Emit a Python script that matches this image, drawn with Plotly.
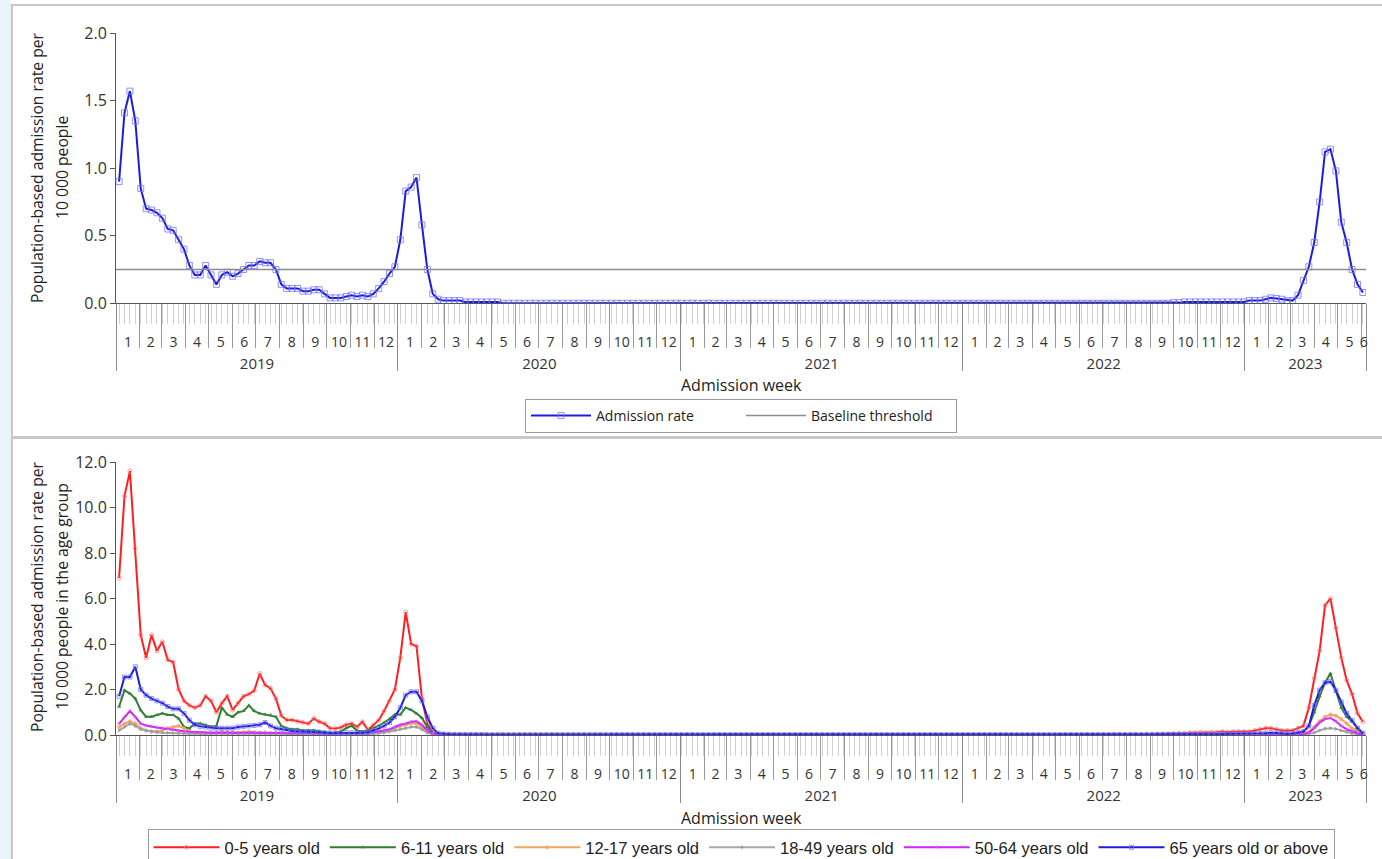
import pandas as pd
import plotly.graph_objects as go

W, H = 1382, 859
FIRST_WEEK = "2019-01-05"   # week ending date of first point
X_START, X_END = "2019-01-01", "2023-06-07"

baseline_threshold = 0.25

# ---------------- Top panel: overall admission rate ----------------
rate_2019 = [0.90, 1.41, 1.57, 1.35, 0.85, 0.70, 0.69, 0.67, 0.63, 0.55,
             0.54, 0.47, 0.40, 0.28, 0.21, 0.21, 0.28, 0.21, 0.14, 0.21,
             0.23, 0.20, 0.22, 0.25, 0.28, 0.28, 0.31, 0.30, 0.30, 0.25,
             0.14, 0.11, 0.11, 0.11, 0.09, 0.09, 0.10, 0.10, 0.07, 0.04,
             0.04, 0.04, 0.05, 0.06, 0.05, 0.06, 0.05, 0.07, 0.11, 0.16,
             0.22, 0.27]
rate_2020 = [0.47, 0.83, 0.86, 0.93, 0.58, 0.25, 0.07, 0.03, 0.02, 0.02,
             0.02, 0.02, 0.01, 0.01, 0.01, 0.01, 0.01, 0.01, 0.01, 0,
             0, 0, 0, 0, 0, 0, 0, 0, 0, 0,
             0, 0, 0, 0, 0, 0, 0, 0, 0, 0,
             0, 0, 0, 0, 0, 0, 0, 0, 0, 0,
             0, 0]
rate_2021 = [0, 0, 0, 0, 0, 0, 0, 0, 0, 0,
             0, 0, 0, 0, 0, 0, 0, 0, 0, 0,
             0, 0, 0, 0, 0, 0, 0, 0, 0, 0,
             0, 0, 0, 0, 0, 0, 0, 0, 0, 0,
             0, 0, 0, 0, 0, 0, 0, 0, 0, 0,
             0, 0]
rate_2022 = [0, 0, 0, 0, 0, 0, 0, 0, 0, 0,
             0, 0, 0, 0, 0, 0, 0, 0, 0, 0,
             0, 0, 0, 0, 0, 0, 0, 0, 0, 0,
             0, 0, 0, 0, 0, 0, 0, 0, 0, 0.005,
             0.005, 0.01, 0.01, 0.01, 0.01, 0.01, 0.01, 0.01, 0.01, 0.01,
             0.01, 0.01, 0.01]
rate_2023 = [0.02, 0.02, 0.02, 0.03, 0.04, 0.035, 0.03, 0.02, 0.02, 0.06,
             0.17, 0.27, 0.45, 0.75, 1.12, 1.14, 0.98, 0.60, 0.45, 0.25,
             0.14, 0.08]

# ---------------- Bottom panel: by age group ----------------
age_0_5_2019 = [6.9, 10.5, 11.6, 8.2, 4.4, 3.4, 4.4, 3.7, 4.1, 3.3,
                3.2, 2.0, 1.5, 1.3, 1.2, 1.3, 1.7, 1.5, 1.0, 1.4,
                1.7, 1.1, 1.4, 1.7, 1.8, 1.95, 2.7, 2.2, 2.05, 1.6,
                0.85, 0.66, 0.66, 0.6, 0.55, 0.5, 0.73, 0.58, 0.5, 0.3,
                0.29, 0.33, 0.45, 0.5, 0.36, 0.58, 0.22, 0.44, 0.65, 1.05,
                1.5, 2.0]
age_0_5_2020 = [3.4, 5.4, 4.0, 3.9, 1.6, 0.5, 0.12, 0.05, 0.04, 0.03,
                0.03, 0.02, 0.02, 0.02, 0.02, 0.01, 0.01, 0.01, 0.01, 0.01,
                0.01, 0.01, 0.02, 0.01, 0.01, 0.01, 0.01, 0.01, 0.01, 0.01,
                0.01, 0.01, 0.01, 0.01, 0.02, 0.01, 0.01, 0.01, 0.01, 0.01,
                0.01, 0.01, 0.01, 0.01, 0.01, 0.01, 0.01, 0.01, 0.01, 0.01,
                0.01, 0.01]
age_0_5_2021 = [0.01, 0.01, 0.01, 0.01, 0.01, 0.01, 0.01, 0.01, 0.01, 0.01,
                0.01, 0.01, 0.01, 0.01, 0.01, 0.01, 0.01, 0.01, 0.01, 0.01,
                0.01, 0.01, 0.01, 0.01, 0.01, 0.01, 0.01, 0.01, 0.01, 0.01,
                0.01, 0.01, 0.01, 0.01, 0.01, 0.01, 0.01, 0.01, 0.01, 0.01,
                0.01, 0.01, 0.01, 0.01, 0.01, 0.01, 0.01, 0.01, 0.01, 0.01,
                0.01, 0.01]
age_0_5_2022 = [0.02, 0.02, 0.02, 0.02, 0.02, 0.02, 0.02, 0.02, 0.02, 0.02,
                0.01, 0.01, 0.01, 0.01, 0.01, 0.01, 0.01, 0.01, 0.01, 0.01,
                0.02, 0.02, 0.02, 0.02, 0.02, 0.02, 0.02, 0.02, 0.03, 0.03,
                0.03, 0.03, 0.03, 0.03, 0.04, 0.04, 0.04, 0.05, 0.05, 0.06,
                0.08, 0.08, 0.1, 0.1, 0.12, 0.1, 0.12, 0.12, 0.15, 0.12,
                0.15, 0.15, 0.15]
age_0_5_2023 = [0.15, 0.2, 0.25, 0.3, 0.3, 0.25, 0.2, 0.2, 0.2, 0.3,
                0.4, 1.2, 2.5, 3.7, 5.7, 6.0, 4.7, 3.4, 2.4, 1.8,
                0.95, 0.58]

age_6_11_2019 = [1.24, 1.97, 1.82, 1.6, 1.09, 0.8, 0.8, 0.88, 0.95, 0.88,
                 0.88, 0.73, 0.36, 0.29, 0.51, 0.51, 0.44, 0.36, 0.4, 1.2,
                 0.9, 0.8, 1.0, 1.05, 1.3, 1.05, 0.95, 0.9, 0.88, 0.8,
                 0.4, 0.3, 0.25, 0.25, 0.2, 0.2, 0.2, 0.15, 0.12, 0.1,
                 0.1, 0.15, 0.3, 0.4, 0.2, 0.15, 0.2, 0.3, 0.4, 0.55,
                 0.7, 0.9]
age_6_11_2020 = [0.9, 1.2, 1.1, 0.95, 0.75, 0.35, 0.08, 0.03, 0.02, 0.02,
                 0.01, 0.01, 0.01, 0.01, 0.01, 0.01, 0.01, 0.01, 0.01, 0.01,
                 0.01, 0.01, 0.01, 0.01, 0.01, 0.01, 0.01, 0.01, 0.01, 0.01,
                 0.01, 0.01, 0.01, 0.01, 0.01, 0.01, 0.01, 0.01, 0.01, 0.01,
                 0.01, 0.01, 0.01, 0.01, 0.01, 0.01, 0.01, 0.01, 0.01, 0.01,
                 0.01, 0.01]
age_6_11_2021 = [0, 0, 0, 0, 0, 0, 0, 0, 0, 0,
                 0, 0, 0, 0, 0, 0, 0, 0, 0, 0,
                 0, 0, 0, 0, 0, 0, 0, 0, 0, 0,
                 0, 0, 0, 0, 0, 0, 0, 0, 0, 0,
                 0, 0, 0, 0, 0, 0, 0, 0, 0, 0,
                 0, 0]
age_6_11_2022 = [0, 0, 0, 0, 0, 0, 0, 0, 0, 0,
                 0, 0, 0, 0, 0, 0, 0, 0, 0, 0,
                 0, 0, 0, 0, 0, 0, 0, 0, 0, 0,
                 0, 0, 0, 0, 0, 0, 0, 0, 0, 0.01,
                 0.01, 0.01, 0.01, 0.02, 0.02, 0.02, 0.02, 0.02, 0.03, 0.03,
                 0.03, 0.03, 0.03]
age_6_11_2023 = [0.03, 0.03, 0.04, 0.05, 0.05, 0.04, 0.04, 0.03, 0.04, 0.08,
                 0.15, 0.4, 1.0, 1.7, 2.3, 2.7, 1.9, 1.2, 0.8, 0.6,
                 0.3, 0.1]

age_12_17_2019 = [0.35, 0.5, 0.6, 0.5, 0.3, 0.2, 0.15, 0.15, 0.2, 0.3,
                  0.35, 0.4, 0.3, 0.15, 0.1, 0.1, 0.08, 0.08, 0.1, 0.15,
                  0.12, 0.1, 0.1, 0.12, 0.15, 0.12, 0.1, 0.1, 0.08, 0.08,
                  0.06, 0.05, 0.05, 0.05, 0.05, 0.05, 0.04, 0.04, 0.04, 0.03,
                  0.03, 0.04, 0.05, 0.06, 0.05, 0.05, 0.06, 0.08, 0.1, 0.15,
                  0.2, 0.3]
age_12_17_2020 = [0.4, 0.45, 0.5, 0.5, 0.35, 0.15, 0.04, 0.02, 0.01, 0.01,
                  0.01, 0.01, 0.01, 0.01, 0.01, 0.01, 0.01, 0.01, 0.01, 0.01,
                  0, 0, 0, 0, 0, 0, 0, 0, 0, 0,
                  0, 0, 0, 0, 0, 0, 0, 0, 0, 0,
                  0, 0, 0, 0, 0, 0, 0, 0, 0, 0,
                  0, 0]
age_12_17_2021 = [0, 0, 0, 0, 0, 0, 0, 0, 0, 0,
                  0, 0, 0, 0, 0, 0, 0, 0, 0, 0,
                  0, 0, 0, 0, 0, 0, 0, 0, 0, 0,
                  0, 0, 0, 0, 0, 0, 0, 0, 0, 0,
                  0, 0, 0, 0, 0, 0, 0, 0, 0, 0,
                  0, 0]
age_12_17_2022 = [0, 0, 0, 0, 0, 0, 0, 0, 0, 0,
                  0, 0, 0, 0, 0, 0, 0, 0, 0, 0,
                  0, 0, 0, 0, 0, 0, 0, 0, 0, 0,
                  0, 0, 0, 0, 0, 0, 0, 0, 0.01, 0.01,
                  0.01, 0.02, 0.02, 0.02, 0.03, 0.03, 0.03, 0.04, 0.04, 0.04,
                  0.05, 0.05, 0.05]
age_12_17_2023 = [0.05, 0.05, 0.06, 0.06, 0.06, 0.05, 0.05, 0.05, 0.05, 0.06,
                  0.08, 0.15, 0.35, 0.6, 0.8, 0.9, 0.85, 0.7, 0.5, 0.3,
                  0.15, 0.05]

age_18_49_2019 = [0.2, 0.35, 0.5, 0.4, 0.25, 0.2, 0.15, 0.12, 0.1, 0.1,
                  0.09, 0.08, 0.07, 0.06, 0.05, 0.05, 0.05, 0.05, 0.05, 0.05,
                  0.05, 0.05, 0.05, 0.05, 0.05, 0.05, 0.05, 0.06, 0.05, 0.05,
                  0.04, 0.04, 0.04, 0.04, 0.04, 0.04, 0.04, 0.03, 0.03, 0.03,
                  0.03, 0.03, 0.03, 0.04, 0.04, 0.04, 0.05, 0.06, 0.08, 0.1,
                  0.15, 0.2]
age_18_49_2020 = [0.25, 0.3, 0.35, 0.35, 0.25, 0.1, 0.03, 0.02, 0.01, 0.01,
                  0, 0, 0, 0, 0, 0, 0, 0, 0, 0,
                  0, 0, 0, 0, 0, 0, 0, 0, 0, 0,
                  0, 0, 0, 0, 0, 0, 0, 0, 0, 0,
                  0, 0, 0, 0, 0, 0, 0, 0, 0, 0,
                  0, 0]
age_18_49_2021 = [0, 0, 0, 0, 0, 0, 0, 0, 0, 0,
                  0, 0, 0, 0, 0, 0, 0, 0, 0, 0,
                  0, 0, 0, 0, 0, 0, 0, 0, 0, 0,
                  0, 0, 0, 0, 0, 0, 0, 0, 0, 0,
                  0, 0, 0, 0, 0, 0, 0, 0, 0, 0,
                  0, 0]
age_18_49_2022 = [0, 0, 0, 0, 0, 0, 0, 0, 0, 0,
                  0, 0, 0, 0, 0, 0, 0, 0, 0, 0,
                  0, 0, 0, 0, 0, 0, 0, 0, 0, 0,
                  0, 0, 0, 0, 0, 0, 0, 0, 0, 0,
                  0, 0, 0, 0.01, 0.01, 0.01, 0.01, 0.01, 0.01, 0.01,
                  0.02, 0.02, 0.02]
age_18_49_2023 = [0.02, 0.02, 0.02, 0.02, 0.02, 0.02, 0.02, 0.02, 0.02, 0.02,
                  0.03, 0.05, 0.1, 0.2, 0.28, 0.3, 0.27, 0.2, 0.13, 0.08,
                  0.04, 0.02]

age_50_64_2019 = [0.5, 0.8, 1.05, 0.8, 0.5, 0.42, 0.36, 0.33, 0.3, 0.26,
                  0.22, 0.2, 0.16, 0.14, 0.12, 0.12, 0.11, 0.1, 0.1, 0.1,
                  0.1, 0.1, 0.1, 0.1, 0.1, 0.1, 0.11, 0.12, 0.1, 0.1,
                  0.09, 0.08, 0.08, 0.08, 0.08, 0.07, 0.07, 0.07, 0.06, 0.06,
                  0.06, 0.06, 0.06, 0.07, 0.07, 0.08, 0.1, 0.12, 0.15, 0.2,
                  0.25, 0.35]
age_50_64_2020 = [0.45, 0.5, 0.58, 0.6, 0.45, 0.2, 0.06, 0.03, 0.02, 0.01,
                  0.01, 0.01, 0.01, 0.01, 0.01, 0, 0, 0, 0, 0,
                  0, 0, 0, 0, 0, 0, 0, 0, 0, 0,
                  0, 0, 0, 0, 0, 0, 0, 0, 0, 0,
                  0, 0, 0, 0, 0, 0, 0, 0, 0, 0,
                  0, 0]
age_50_64_2021 = [0, 0, 0, 0, 0, 0, 0, 0, 0, 0,
                  0, 0, 0, 0, 0, 0, 0, 0, 0, 0,
                  0, 0, 0, 0, 0, 0, 0, 0, 0, 0,
                  0, 0, 0, 0, 0, 0, 0, 0, 0, 0,
                  0, 0, 0, 0, 0, 0, 0, 0, 0, 0,
                  0, 0]
age_50_64_2022 = [0, 0, 0, 0, 0, 0, 0, 0, 0, 0,
                  0, 0, 0, 0, 0, 0, 0, 0, 0, 0,
                  0, 0, 0, 0, 0, 0, 0, 0, 0, 0,
                  0, 0, 0, 0, 0, 0, 0, 0, 0, 0,
                  0, 0, 0.01, 0.01, 0.01, 0.01, 0.01, 0.01, 0.02, 0.02,
                  0.02, 0.02, 0.03]
age_50_64_2023 = [0.03, 0.03, 0.03, 0.03, 0.03, 0.03, 0.03, 0.03, 0.03, 0.03,
                  0.05, 0.1, 0.3, 0.55, 0.7, 0.75, 0.6, 0.4, 0.25, 0.15,
                  0.08, 0.03]

age_65_2019 = [1.7, 2.55, 2.55, 3.0, 2.0, 1.75, 1.6, 1.5, 1.4, 1.25,
               1.15, 1.15, 0.95, 0.65, 0.45, 0.38, 0.35, 0.3, 0.3, 0.3,
               0.3, 0.3, 0.35, 0.38, 0.4, 0.42, 0.45, 0.55, 0.4, 0.3,
               0.25, 0.2, 0.18, 0.16, 0.15, 0.15, 0.15, 0.13, 0.1, 0.08,
               0.08, 0.08, 0.1, 0.1, 0.1, 0.1, 0.12, 0.2, 0.28, 0.4,
               0.55, 0.8]
age_65_2020 = [1.2, 1.75, 1.9, 1.9, 1.5, 0.8, 0.3, 0.08, 0.04, 0.03,
               0.02, 0.02, 0.02, 0.02, 0.02, 0.02, 0.01, 0.01, 0.01, 0.01,
               0.01, 0.01, 0.01, 0.01, 0.01, 0.01, 0.01, 0.01, 0.01, 0.01,
               0.01, 0.01, 0.01, 0.01, 0.01, 0.01, 0.01, 0.01, 0.01, 0.01,
               0.01, 0.01, 0.01, 0.01, 0.01, 0.01, 0.01, 0.01, 0.01, 0.01,
               0.01, 0.01]
age_65_2021 = [0.01, 0.01, 0.01, 0.01, 0.01, 0.01, 0.01, 0.01, 0.01, 0.01,
               0.01, 0.01, 0.01, 0.01, 0.01, 0.01, 0.01, 0.01, 0.01, 0.01,
               0.01, 0.01, 0.01, 0.01, 0.01, 0.01, 0.01, 0.01, 0.01, 0.01,
               0.01, 0.01, 0.01, 0.01, 0.01, 0.01, 0.01, 0.01, 0.01, 0.01,
               0.01, 0.01, 0.01, 0.01, 0.01, 0.01, 0.01, 0.01, 0.01, 0.01,
               0.01, 0.01]
age_65_2022 = [0.01, 0.01, 0.01, 0.01, 0.01, 0.01, 0.01, 0.01, 0.01, 0.01,
               0.01, 0.01, 0.01, 0.01, 0.01, 0.01, 0.01, 0.01, 0.01, 0.01,
               0.01, 0.01, 0.01, 0.01, 0.01, 0.01, 0.01, 0.01, 0.01, 0.01,
               0.01, 0.01, 0.01, 0.01, 0.01, 0.01, 0.02, 0.02, 0.02, 0.02,
               0.02, 0.02, 0.03, 0.03, 0.03, 0.03, 0.04, 0.04, 0.04, 0.05,
               0.05, 0.05, 0.05]
age_65_2023 = [0.05, 0.05, 0.06, 0.08, 0.1, 0.08, 0.07, 0.06, 0.07, 0.1,
               0.15, 0.4, 1.3, 1.97, 2.3, 2.35, 1.97, 1.45, 0.95, 0.63,
               0.3, 0.07]

age_groups = ["0-5 years old", "6-11 years old", "12-17 years old",
              "18-49 years old", "50-64 years old", "65 years old or above"]
year_labels = ["2019", "2020", "2021", "2022", "2023"]
month_labels = ["1", "2", "3", "4", "5", "6", "7", "8", "9", "10", "11", "12"]
y_title_top = ["Population-based admission rate per", "10 000 people"]
y_title_bottom = ["Population-based admission rate per", "10 000 people in the age group"]
x_title = "Admission week"

# --------------- assemble ---------------
def cat(*parts):
    out = []
    for p in parts:
        out.extend(p)
    return out

rate = cat(rate_2019, rate_2020, rate_2021, rate_2022, rate_2023)
age_series = [
    cat(age_0_5_2019, age_0_5_2020, age_0_5_2021, age_0_5_2022, age_0_5_2023),
    cat(age_6_11_2019, age_6_11_2020, age_6_11_2021, age_6_11_2022, age_6_11_2023),
    cat(age_12_17_2019, age_12_17_2020, age_12_17_2021, age_12_17_2022, age_12_17_2023),
    cat(age_18_49_2019, age_18_49_2020, age_18_49_2021, age_18_49_2022, age_18_49_2023),
    cat(age_50_64_2019, age_50_64_2020, age_50_64_2021, age_50_64_2022, age_50_64_2023),
    cat(age_65_2019, age_65_2020, age_65_2021, age_65_2022, age_65_2023),
]
for s in age_series:
    if len(s) != len(rate):
        raise ValueError(f"length mismatch {[len(a) for a in age_series]} vs {len(rate)}")

weeks = pd.date_range(FIRST_WEEK, periods=len(rate), freq="7D")
week_str = [d.strftime("%Y-%m-%d") for d in weeks]
x_end = pd.Timestamp(X_END)

fmt = "%Y-%m-%d %H:%M"
month_starts = [d.strftime(fmt) for d in pd.date_range("2019-02-01", X_END, freq="MS") if d.month != 1]
year_bounds = [d.strftime(fmt) for d in pd.date_range("2019-01-01", X_END, freq="YS")] + [x_end.strftime(fmt)]
month_mid, month_txt = [], []
for m in pd.date_range("2019-01-01", X_END, freq="MS"):
    end = min(m + pd.offsets.MonthEnd(0) + pd.Timedelta(days=1), x_end)
    month_mid.append((m + (end - m) / 2).strftime(fmt))
    month_txt.append(month_labels[m.month - 1])
year_mid = []
for y in year_labels:
    s = pd.Timestamp(f"{y}-01-01")
    e = min(pd.Timestamp(f"{int(y) + 1}-01-01"), x_end)
    year_mid.append((s + (e - s) / 2).strftime(fmt))


def py(p):
    return 1 - p / H


XD = [116 / W, 1366 / W]
YTICKFONT = dict(family="Open Sans", size=16, color="#333333")
MONTHFONT = dict(family="Open Sans", size=14, color="#333333")
YEARFONT = dict(family="Open Sans", size=15, color="#333333")
TITLEFONT = dict(family="Open Sans", size=15.7, color="#222222")
XTITLEFONT = dict(family="Open Sans", size=16, color="#222222")

fig = go.Figure()

# top traces
fig.add_trace(go.Scatter(
    x=week_str, y=rate, mode="lines+markers", name="Admission rate",
    line=dict(color="#1c1cdc", width=2),
    marker=dict(symbol="square-open", size=6, color="rgba(110,110,255,0.75)", line=dict(width=1)),
    xaxis="x", yaxis="y", legend="legend"))
fig.add_trace(go.Scatter(
    x=[X_START, X_END], y=[baseline_threshold, baseline_threshold],
    mode="lines", name="Baseline threshold",
    line=dict(color="#8c8c8c", width=1.5), xaxis="x", yaxis="y", legend="legend"))

styles = [
    dict(color="#ff1f1f", sym="circle-open", mcol="rgba(255,120,120,0.7)"),
    dict(color="#2f7f2f", sym="triangle-up", mcol="rgba(60,130,60,0.9)"),
    dict(color="#f4a460", sym="circle", mcol="rgba(244,164,96,0.8)"),
    dict(color="#a8a8a8", sym="triangle-right", mcol="rgba(150,150,150,0.8)"),
    dict(color="#cc22ff", sym="triangle-up", mcol="rgba(210,80,255,0.8)"),
    dict(color="#1c1cdc", sym="square-open", mcol="rgba(110,110,255,0.75)"),
]
for name, vals, st in zip(age_groups, age_series, styles):
    fig.add_trace(go.Scatter(
        x=week_str, y=vals, mode="lines+markers", name=name,
        line=dict(color=st["color"], width=2),
        marker=dict(symbol=st["sym"], size=4, color=st["mcol"]),
        xaxis="x5", yaxis="y2", legend="legend2"))

# empty helper traces so that the overlay (decoration) axes get drawn
for xa, ya in [("x2", "y"), ("x3", "y"), ("x4", "y"), ("x6", "y2"), ("x7", "y2"), ("x8", "y2")]:
    fig.add_trace(go.Scatter(x=[], y=[], xaxis=xa, yaxis=ya, showlegend=False,
                             hoverinfo="skip", mode="lines"))


def x_axes(b, anchor_y, axis_px):
    """main axis + overlays for year separators, month labels, year labels"""
    common = dict(type="date", range=[X_START, X_END], showgrid=False, zeroline=False,
                  fixedrange=True, automargin=False)
    axes = {}
    main = "x" if b == 1 else f"x{b}"
    axes[f"xaxis{'' if b == 1 else b}"] = dict(
        common, domain=XD, anchor=anchor_y, showline=True, linecolor="#555555", linewidth=1,
        ticks="outside", tickmode="array", tickvals=month_starts, ticklen=44,
        tickcolor="#9a9a9a", tickwidth=1, showticklabels=False,
        minor=dict(ticks="outside", tickmode="array", tickvals=week_str, ticklen=20,
                   tickcolor="#cfcfcf", tickwidth=1, showgrid=False))
    axes[f"xaxis{b+1}"] = dict(
        common, domain=XD, overlaying=main, anchor=anchor_y, showline=False, ticks="outside",
        tickmode="array", tickvals=year_bounds, ticklen=67, tickcolor="#8a8a8a",
        tickwidth=1, showticklabels=False)
    axes[f"xaxis{b+2}"] = dict(
        common, domain=XD, overlaying=main, anchor="free", position=py(axis_px + 29),
        showline=False, ticks="", tickmode="array", tickvals=month_mid, ticktext=month_txt,
        tickfont=MONTHFONT, tickangle=0)
    axes[f"xaxis{b+3}"] = dict(
        common, domain=XD, overlaying=main, anchor="free", position=py(axis_px + 50),
        showline=False, ticks="", tickmode="array", tickvals=year_mid, ticktext=year_labels,
        tickfont=YEARFONT, tickangle=0)
    return axes


AX_TOP = 303.3
AX_BOT = 735.0
layout_axes = {}
layout_axes.update(x_axes(1, "y", AX_TOP))
layout_axes.update(x_axes(5, "y2", AX_BOT))

annotations = []
for lines, yc in [(y_title_top, 168), (y_title_bottom, 597)]:
    for txt, xc in zip(lines, [37, 62]):
        annotations.append(dict(text=txt, x=xc / W, y=py(yc), xref="paper", yref="paper",
                                textangle=-90, showarrow=False, font=TITLEFONT,
                                xanchor="center", yanchor="middle"))
for yc in [385, 818]:
    annotations.append(dict(text=x_title, x=741 / W, y=py(yc), xref="paper", yref="paper",
                            showarrow=False, font=XTITLEFONT, xanchor="center", yanchor="middle"))

fig.update_layout(
    width=W, height=H, margin=dict(l=0, r=0, t=0, b=0, autoexpand=False),
    paper_bgcolor="white", plot_bgcolor="white",
    showlegend=True,
    **layout_axes,
    yaxis=dict(domain=[py(AX_TOP), py(33)], range=[0, 2], tickmode="array",
               tickvals=[0, 0.5, 1.0, 1.5, 2.0], tickformat=".1f",
               ticks="outside", ticklen=5, tickcolor="#555555", showline=True,
               linecolor="#555555", showgrid=False, zeroline=False, tickfont=YTICKFONT,
               anchor="x", fixedrange=True, automargin=False),
    yaxis2=dict(domain=[py(AX_BOT), py(462)], range=[0, 12], tickmode="array",
                tickvals=[0, 2, 4, 6, 8, 10, 12], tickformat=".1f",
                ticks="outside", ticklen=5, tickcolor="#555555", showline=True,
                linecolor="#555555", showgrid=False, zeroline=False, tickfont=YTICKFONT,
                anchor="x5", fixedrange=True, automargin=False),
    legend=dict(orientation="h", x=741 / W, xanchor="center", y=py(399), yanchor="top",
                bordercolor="#9a9a9a", borderwidth=1, bgcolor="white",
                font=dict(family="Open Sans", size=14, color="#222222"),
                entrywidth=140, itemwidth=60),
    legend2=dict(orientation="h", x=741 / W, xanchor="center", y=py(829), yanchor="top",
                 bordercolor="#9a9a9a", borderwidth=1, bgcolor="white",
                 font=dict(family="Liberation Sans, Arial", size=16.5, color="#222222"),
                 itemwidth=66),
    annotations=annotations,
    shapes=[
        dict(type="rect", xref="paper", yref="paper", x0=0, x1=11 / W, y0=0, y1=1,
             fillcolor="#eaf4fb", line=dict(width=0), layer="below"),
        dict(type="rect", xref="paper", yref="paper", x0=12 / W, x1=1.01, y0=py(437), y1=py(5),
             line=dict(color="#c8c8c8", width=2), layer="below"),
        dict(type="rect", xref="paper", yref="paper", x0=12 / W, x1=1.01, y0=-0.01, y1=py(438),
             line=dict(color="#c8c8c8", width=2), layer="below"),
    ],
)

fig.write_html("out.html", config={"displayModeBar": False},
               post_script="document.body.style.margin='0';document.body.style.overflow='hidden';")
